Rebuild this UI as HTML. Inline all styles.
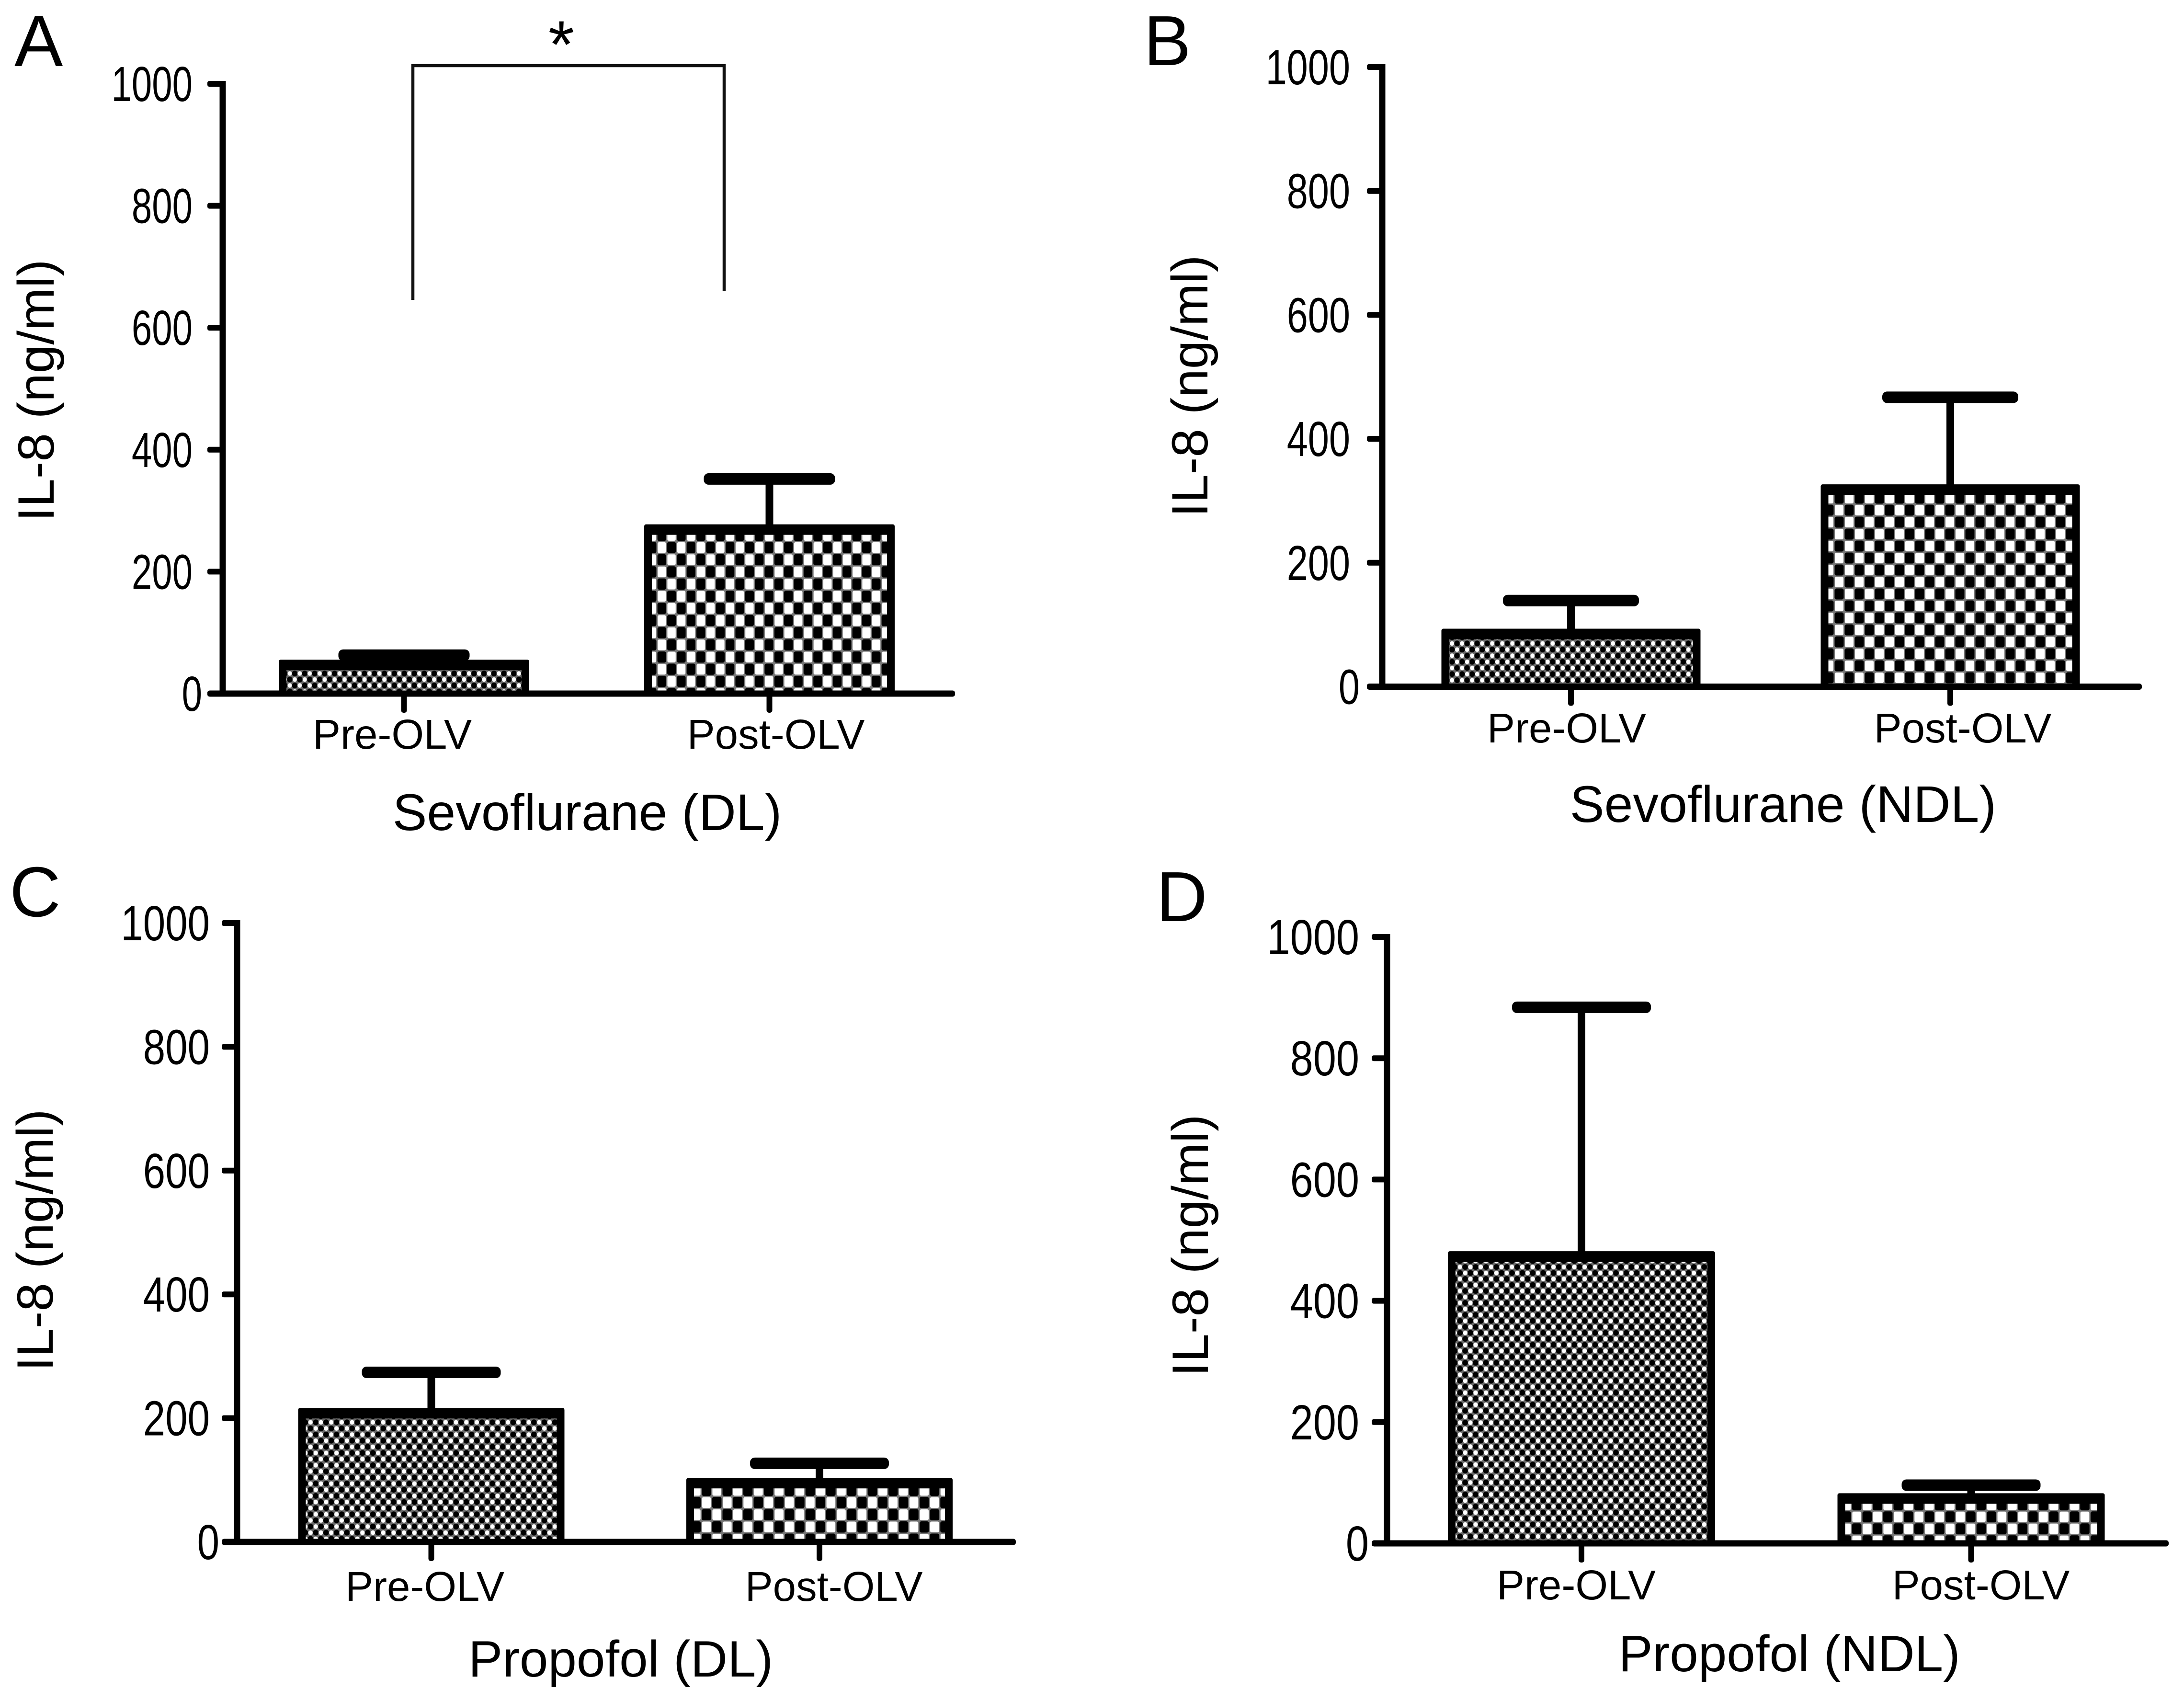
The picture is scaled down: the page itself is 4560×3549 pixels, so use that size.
<!DOCTYPE html>
<html lang="en">
<head>
<meta charset="utf-8">
<title>IL-8 before and after one-lung ventilation</title>
<style>
html,body{margin:0;padding:0;background:#fff;}
svg{display:block;}
text{font-family:"Liberation Sans",Arial,sans-serif;fill:#000;}
</style>
</head>
<body>
<svg id="figure" xmlns="http://www.w3.org/2000/svg" width="4560" height="3549" viewBox="0 0 4560 3549">
<defs>
  <pattern id="fine-a" patternUnits="userSpaceOnUse" x="599.8" y="1399.8" width="20.8" height="25">
    <rect width="20.8" height="25" fill="#6a6a6a"/><ellipse cx="5.2" cy="6.2" rx="4.4" ry="4.8" fill="#fff"/><ellipse cx="15.6" cy="18.8" rx="4.4" ry="4.8" fill="#fff"/><ellipse cx="15.6" cy="6.2" rx="5.8" ry="6" fill="#000"/><ellipse cx="5.2" cy="18.8" rx="5.8" ry="6" fill="#000"/>
  </pattern>
  <pattern id="fine-b" patternUnits="userSpaceOnUse" x="3026.5" y="1336.9" width="21" height="25.6">
    <rect width="21" height="25.6" fill="#6a6a6a"/><ellipse cx="5.25" cy="6.4" rx="4.4" ry="4.8" fill="#fff"/><ellipse cx="15.75" cy="19.2" rx="4.4" ry="4.8" fill="#fff"/><ellipse cx="15.75" cy="6.4" rx="5.8" ry="6" fill="#000"/><ellipse cx="5.25" cy="19.2" rx="5.8" ry="6" fill="#000"/>
  </pattern>
  <pattern id="fine-c" patternUnits="userSpaceOnUse" x="642.9" y="2962.9" width="21.7" height="25.6">
    <rect width="21.7" height="25.6" fill="#6a6a6a"/><ellipse cx="5.4" cy="6.4" rx="4.6" ry="4.8" fill="#fff"/><ellipse cx="16.3" cy="19.2" rx="4.6" ry="4.8" fill="#fff"/><ellipse cx="16.3" cy="6.4" rx="6" ry="6" fill="#000"/><ellipse cx="5.4" cy="19.2" rx="6" ry="6" fill="#000"/>
  </pattern>
  <pattern id="fine-d" patternUnits="userSpaceOnUse" x="3042.9" y="2638.8" width="21.7" height="25">
    <rect width="21.7" height="25" fill="#6a6a6a"/><ellipse cx="5.4" cy="6.2" rx="4.6" ry="4.8" fill="#fff"/><ellipse cx="16.3" cy="18.8" rx="4.6" ry="4.8" fill="#fff"/><ellipse cx="16.3" cy="6.2" rx="6" ry="6" fill="#000"/><ellipse cx="5.4" cy="18.8" rx="6" ry="6" fill="#000"/>
  </pattern>
  <pattern id="coarse-a" patternUnits="userSpaceOnUse" x="1351.2" y="1105" width="40.7" height="50.8">
    <rect width="40.7" height="50.8" fill="#777"/><rect x="1.5" y="1.5" width="17.4" height="22.4" rx="3" fill="#fff"/><rect x="21.9" y="26.9" width="17.4" height="22.4" rx="3" fill="#fff"/><rect x="21.4" y="1" width="18.3" height="23.4" rx="4" fill="#000"/><rect x="1" y="26.4" width="18.3" height="23.4" rx="4" fill="#000"/>
  </pattern>
  <pattern id="coarse-b" patternUnits="userSpaceOnUse" x="3829.5" y="1052.5" width="42" height="50">
    <rect width="42" height="50" fill="#777"/><rect x="1.5" y="1.5" width="18" height="22" rx="3" fill="#fff"/><rect x="22.5" y="26.5" width="18" height="22" rx="3" fill="#fff"/><rect x="22" y="1" width="19" height="23" rx="4" fill="#000"/><rect x="1" y="26" width="19" height="23" rx="4" fill="#000"/>
  </pattern>
  <pattern id="coarse-c" patternUnits="userSpaceOnUse" x="1464.2" y="3124" width="43.3" height="51">
    <rect width="43.3" height="51" fill="#777"/><rect x="1.5" y="1.5" width="18.6" height="22.5" rx="3" fill="#fff"/><rect x="23.2" y="27" width="18.6" height="22.5" rx="3" fill="#fff"/><rect x="22.7" y="1" width="19.6" height="23.5" rx="4" fill="#000"/><rect x="1" y="26.5" width="19.6" height="23.5" rx="4" fill="#000"/>
  </pattern>
  <pattern id="coarse-d" patternUnits="userSpaceOnUse" x="3865.9" y="3154.2" width="43.3" height="50">
    <rect width="43.3" height="50" fill="#777"/><rect x="1.5" y="1.5" width="18.6" height="22" rx="3" fill="#fff"/><rect x="23.2" y="26.5" width="18.6" height="22" rx="3" fill="#fff"/><rect x="22.7" y="1" width="19.6" height="23" rx="4" fill="#000"/><rect x="1" y="26" width="19.6" height="23" rx="4" fill="#000"/>
  </pattern>
</defs>

<g id="panel-a">
  <text x="30" y="138" font-size="152">A</text>
  <text transform="translate(112,815) rotate(-90)" text-anchor="middle" font-size="107">IL-8 (ng/ml)</text>
  <text x="1226" y="1733" text-anchor="middle" font-size="107.5">Sevoflurane (DL)</text>
  <polyline points="866,626 866,137 1516,137 1516,608" fill="none" stroke="#111" stroke-width="6.5" transform="translate(-4,0)"/>
  <text x="1172" y="141" text-anchor="middle" font-size="140">*</text>
</g>
<g id="panel-b">
  <text x="2388" y="136" font-size="148">B</text>
  <text transform="translate(2521,806) rotate(-90)" text-anchor="middle" font-size="107">IL-8 (ng/ml)</text>
  <text x="3723" y="1716" text-anchor="middle" font-size="107.5">Sevoflurane (NDL)</text>
</g>
<g id="panel-c">
  <text x="20" y="1913" font-size="148">C</text>
  <text transform="translate(110,2589) rotate(-90)" text-anchor="middle" font-size="107">IL-8 (ng/ml)</text>
  <text x="1296" y="3500" text-anchor="middle" font-size="107">Propofol (DL)</text>
</g>
<g id="panel-d">
  <text x="2414" y="1923" font-size="148">D</text>
  <text transform="translate(2522,2600) rotate(-90)" text-anchor="middle" font-size="107">IL-8 (ng/ml)</text>
  <text x="3736" y="3489" text-anchor="middle" font-size="107">Propofol (NDL)</text>
</g>
</svg>

<script>
// Chart data (IL-8, ng/ml)
const categories = ['Pre-OLV', 'Post-OLV'];
const tickValues = [0, 200, 400, 600, 800, 1000];
const tickLabels = ['0', '200', '400', '600', '800', '1000'];
const sevoDlMeans = [47, 269];
const sevoDlErrorTops = [63, 352];
const sevoNdlMeans = [85, 318];
const sevoNdlErrorTops = [139, 467];
const propoDlMeans = [208, 95];
const propoDlErrorTops = [274, 127];
const propoNdlMeans = [473, 74];
const propoNdlErrorTops = [884, 96];

// Page layout for each panel (frame geometry only)
const panelFrames = [
  {key:'a', means:sevoDlMeans, errorTops:sevoDlErrorTops, axisX:465, zeroY:1448, topY:175, endX:1994, firstX:843.5, stepX:763, barW:523, capW:274, labelXs:[819,1620], labelY:1563, tickRight:402, tickScale:0.74, fills:['fine-a','coarse-a']},
  {key:'b', means:sevoNdlMeans, errorTops:sevoNdlErrorTops, axisX:2886, zeroY:1433.5, topY:140, endX:4472, firstX:3280, stepX:792, barW:541, capW:284, labelXs:[3271,4098], labelY:1550, tickRight:2819, tickScale:0.77, fills:['fine-b','coarse-b']},
  {key:'c', means:propoDlMeans, errorTops:propoDlErrorTops, axisX:495, zeroY:3219, topY:1927, endX:2121, firstX:900.5, stepX:810.5, barW:556, capW:290, labelXs:[887,1741], labelY:3342, tickRight:438, tickScale:0.81, fills:['fine-c','coarse-c']},
  {key:'d', means:propoNdlMeans, errorTops:propoNdlErrorTops, axisX:2896, zeroY:3222, topY:1956, endX:4528, firstX:3302, stepX:813.5, barW:558, capW:290, labelXs:[3291,4136], labelY:3339, tickRight:2838, tickScale:0.84, fills:['fine-d','coarse-d']}
];

const SVG_NS = 'http://www.w3.org/2000/svg';
const AXIS_MAX = 1000;

function mk(parent, tag, attrs) {
  const el = document.createElementNS(SVG_NS, tag);
  for (const k in attrs) el.setAttribute(k, attrs[k]);
  parent.appendChild(el);
  return el;
}

panelFrames.forEach(function (f) {
  const g = document.getElementById('panel-' + f.key);
  const yScale = function (v) { return f.zeroY - (v / AXIS_MAX) * (f.zeroY - f.topY); };
  const xScale = function (i) { return f.firstX + i * f.stepX; };

  categories.forEach(function (cat, i) {
    const cx = xScale(i);
    const left = cx - f.barW / 2;
    const topOuter = yScale(f.means[i]) - 11;
    const slug = f.key + '-' + cat.toLowerCase();

    const stem = mk(g, 'rect', {x: cx - 8, y: yScale(f.errorTops[i]), width: 16, height: yScale(f.means[i]) - yScale(f.errorTops[i]), fill: '#000'});
    
    

    const cap = mk(g, 'rect', {x: cx - f.capW / 2, y: yScale(f.errorTops[i]) - 12, width: f.capW, height: 24, rx: 10, fill: '#000'});
    
    

    const outline = mk(g, 'rect', {x: left, y: topOuter, width: f.barW, height: f.zeroY - topOuter, rx: 4, fill: '#000'});
    
    

    const fill = mk(g, 'rect', {x: left + 16, y: topOuter + 22, width: f.barW - 32, height: Math.max(0, f.zeroY - 6 - (topOuter + 22)), fill: 'url(#' + f.fills[i] + ')'});
    
    

    const xTick = mk(g, 'rect', {x: cx - 6, y: f.zeroY, width: 12, height: 40, rx: 5, fill: '#000'});
    
    

    const label = mk(g, 'text', {x: f.labelXs[i], y: f.labelY, 'text-anchor': 'middle', 'font-size': 87});
    label.textContent = cat;
    
    
  });

  const yAxis = mk(g, 'rect', {x: f.axisX - 6.5, y: f.topY - 6, width: 13, height: f.zeroY - f.topY + 12, fill: '#000'});
  
  

  const xAxis = mk(g, 'rect', {x: f.axisX - 32, y: f.zeroY - 6.5, width: f.endX - f.axisX + 32, height: 13, rx: 5, fill: '#000'});
  
  

  tickValues.forEach(function (v, i) {
    const tick = mk(g, 'rect', {x: f.axisX - 32, y: yScale(v) - 6, width: 32, height: 12, rx: 4, fill: '#000'});
    
    

    const shift = v === 0 ? 20 : 0;
    const label = mk(g, 'text', {transform: 'translate(' + (f.tickRight + shift) + ',' + (yScale(v) + 36) + ') scale(' + f.tickScale + ',1)', 'text-anchor': 'end', 'font-size': 103});
    label.textContent = tickLabels[i];
    
    
  });
});
</script>
</body>
</html>
